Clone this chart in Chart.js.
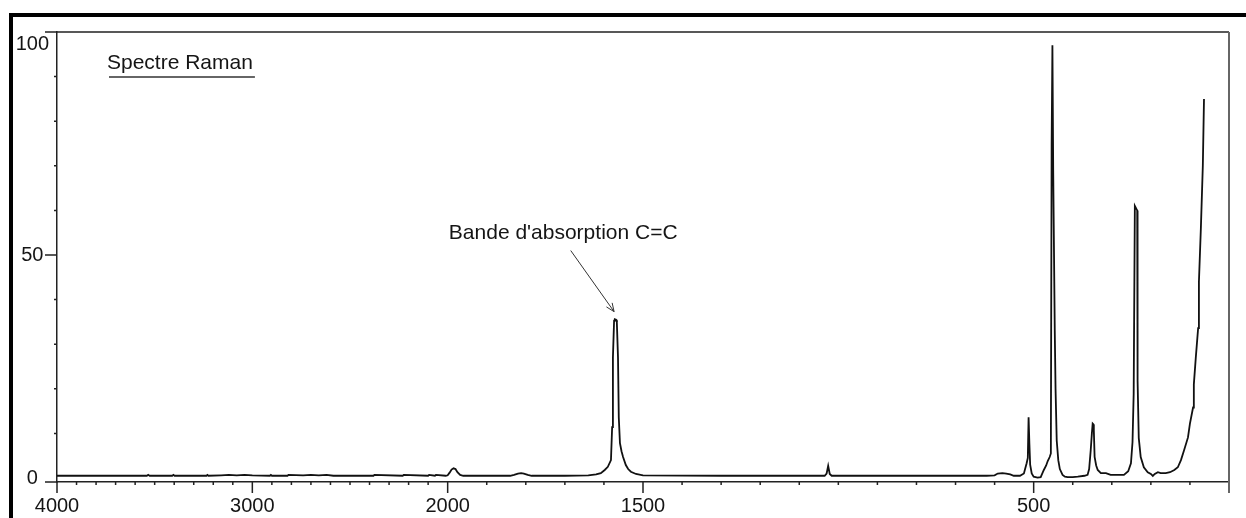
<!DOCTYPE html>
<html>
<head>
<meta charset="utf-8">
<title>Spectre Raman</title>
<script src="https://cdn.jsdelivr.net/npm/chart.js@4/dist/chart.umd.min.js"></script>
<style>
    body { margin: 0; background: #fff; }
    canvas { display: block; }
</style>
</head>
<body>
<canvas id="ramanChart" width="1246" height="518"></canvas>
<script>
// Raman spectrum (wavenumber in cm-1, intensity 0-100)
var wavenumber = [4000, 3540, 3533, 3526, 3410, 3404, 3398, 3235, 3230, 3225,
    3160, 3120, 3080, 3040, 3000, 2910, 2905, 2900, 2820, 2815, 2740, 2700, 2660, 2620, 2585,
    2380, 2375, 2230, 2225, 2100, 2095, 2065, 2060, 2010,
    2000, 1995, 1990, 1985, 1980, 1975, 1968, 1960, 1900,
    1840, 1830, 1820, 1812, 1805, 1795, 1785, 1700, 1640, 1620,
    1608, 1598, 1590, 1582, 1579, 1577, 1574, 1572, 1569, 1567, 1564, 1562, 1559,
    1555, 1551, 1544, 1538, 1531, 1518, 1500, 1300, 1100,
    1035, 1030, 1026, 1022, 1017, 900, 700, 620, 600, 592, 580, 570, 560, 551,
    545, 535, 525, 518, 515, 513, 511, 509, 505, 500, 490, 482, 474, 468, 464, 459, 456,
    454, 452, 450, 446, 444, 441, 437, 433, 426, 420, 413, 400, 387, 370,
    362, 358, 354, 351, 349, 347, 346, 344, 340, 336, 328, 315, 303, 285, 269,
    258, 251, 247, 244, 241, 235, 234, 231, 226, 218, 208, 200, 195, 190, 182, 175,
    162, 151, 140, 131, 123, 115, 105, 100, 92, 90, 85, 79, 77, 72, 67, 64];

var intensity = [0.5, 0.5, 0.7, 0.5, 0.5, 0.7, 0.5, 0.5, 0.7, 0.5,
    0.6, 0.7, 0.6, 0.7, 0.6, 0.5, 0.7, 0.5, 0.5, 0.7, 0.6, 0.7, 0.6, 0.7, 0.5,
    0.5, 0.7, 0.5, 0.7, 0.5, 0.7, 0.5, 0.7, 0.5,
    0.6, 1.2, 1.9, 2.2, 2.0, 1.3, 0.7, 0.5, 0.5,
    0.5, 0.7, 1.0, 1.1, 1.0, 0.7, 0.5, 0.5, 0.6, 0.8,
    1.1, 1.8, 2.5, 4.0, 11.4, 27, 35.3, 35.6, 35.5, 35, 27, 13.6, 7.8,
    6.0, 4.7, 2.9, 2.0, 1.4, 0.9, 0.6, 0.5, 0.5,
    0.5, 1.0, 2.7, 0.9, 0.5, 0.5, 0.5, 0.5, 0.6, 1.0, 1.1, 1.0, 0.8, 0.5,
    0.5, 0.5, 1.0, 3.3, 4.5, 13.6, 7.8, 3.0, 1.0, 0.3, 0.1, 0.2, 1.8, 2.8, 3.8, 4.7, 5.5,
    75, 97, 69, 33, 20, 8.4, 4.0, 2.0, 0.7, 0.3, 0.2, 0.2, 0.3, 0.5,
    0.7, 2.0, 6.2, 10, 12.2, 12, 10.7, 4.7, 2.8, 1.8, 1.1, 1.1, 0.7, 0.7, 0.7,
    1.5, 3.3, 8, 18.9, 61, 60, 21.8, 9, 4.7, 2.4, 1.3, 0.9, 0.45, 0.9, 1.3, 1.1,
    1.1, 1.3, 1.8, 2.4, 4.0, 6.2, 9.1, 12.2, 15.8, 21, 27, 33.6, 44, 56, 70, 85];

// axis ticks
var xLabelled = [4000, 3000, 2000, 1500, 500];
var xMajor = [4000, 3000, 2000, 1500, 500, 0];
var yLabelled = [0, 50, 100];
var yMajor = [50, 100];

var titleText = 'Spectre Raman';
var noteText = "Bande d'absorption C=C";

// the wavenumber axis is squeezed by 2 above 2000 cm-1
function toAxis(w) {
    return w <= 2000 ? w : 2000 + (w - 2000) / 2;
}
function fromAxis(u) {
    return u <= 2000 ? u : 2000 + (u - 2000) * 2;
}

var points = wavenumber.map(function (w, i) {
    return { x: toAxis(w), y: intensity[i] };
});

var xTicks = [];
for (var w = 0; w <= 4000; w += 100) xTicks.push({ value: toAxis(w) });
var yTicks = [];
for (var v = 0; v <= 100; v += 10) yTicks.push({ value: v });

var FONT = "'Liberation Sans', Arial, sans-serif";
var INK = '#151515';

var framePlugin = {
    id: 'frame',
    afterDraw: function (chart) {
        var ctx = chart.ctx;
        var a = chart.chartArea;
        var xs = chart.scales.x;
        var ys = chart.scales.y;
        ctx.save();

        // outer thick border (top and left)
        ctx.fillStyle = '#000';
        ctx.fillRect(9, 13, chart.width - 9, 4);
        ctx.fillRect(9, 13, 4, chart.height - 13);

        ctx.strokeStyle = '#222';
        ctx.lineWidth = 1.5;
        ctx.beginPath();
        // top line and extension of the bottom axis
        ctx.moveTo(a.left - 12, a.top); ctx.lineTo(a.right, a.top);
        ctx.moveTo(a.left - 12, a.bottom); ctx.lineTo(a.left, a.bottom);
        // x tick marks
        xs.ticks.forEach(function (t) {
            var px = xs.getPixelForValue(t.value);
            var w = Math.round(fromAxis(t.value));
            var len = xMajor.indexOf(w) >= 0 ? 11 : 3;
            ctx.moveTo(px, a.bottom); ctx.lineTo(px, a.bottom + len);
        });
        // y tick marks
        ys.ticks.forEach(function (t) {
            if (t.value === 0) return;
            var py = ys.getPixelForValue(t.value);
            var len = yMajor.indexOf(t.value) >= 0 ? 12 : 3;
            ctx.moveTo(a.left - len, py); ctx.lineTo(a.left, py);
        });
        ctx.stroke();

        // right border
        ctx.strokeStyle = '#666';
        ctx.lineWidth = 2;
        ctx.beginPath();
        ctx.moveTo(a.right, a.top); ctx.lineTo(a.right, a.bottom + 11);
        ctx.stroke();

        // title, underlined
        ctx.fillStyle = INK;
        ctx.font = '21px ' + FONT;
        ctx.textBaseline = 'alphabetic';
        ctx.textAlign = 'left';
        ctx.fillText(titleText, a.left + 50, a.top + 37);
        var tw = ctx.measureText(titleText).width;
        ctx.strokeStyle = '#333';
        ctx.lineWidth = 1.5;
        ctx.beginPath();
        ctx.moveTo(a.left + 52, a.top + 45); ctx.lineTo(a.left + 52 + tw, a.top + 45);
        ctx.stroke();

        // annotation with arrow on the C=C band
        var tx = xs.getPixelForValue(toAxis(1997));
        var ty = ys.getPixelForValue(53.6);
        ctx.fillText(noteText, tx, ty);
        var x0 = xs.getPixelForValue(toAxis(1685)), y0 = ys.getPixelForValue(51);
        var x1 = xs.getPixelForValue(toAxis(1574)), y1 = ys.getPixelForValue(37.3);
        ctx.strokeStyle = '#333';
        ctx.lineWidth = 1;
        ctx.beginPath();
        ctx.moveTo(x0, y0); ctx.lineTo(x1, y1);
        var ang = Math.atan2(y1 - y0, x1 - x0);
        ctx.moveTo(x1, y1); ctx.lineTo(x1 - 9 * Math.cos(ang - 0.4), y1 - 9 * Math.sin(ang - 0.4));
        ctx.moveTo(x1, y1); ctx.lineTo(x1 - 9 * Math.cos(ang + 0.4), y1 - 9 * Math.sin(ang + 0.4));
        ctx.stroke();
        ctx.restore();
    }
};

var ctx = document.getElementById('ramanChart').getContext('2d');
var chart = new Chart(ctx, {
    type: 'line',
    data: {
        datasets: [{
            label: 'Raman',
            data: points,
            borderColor: '#111',
            borderWidth: 1.8,
            pointRadius: 0,
            tension: 0,
            fill: false
        }]
    },
    options: {
        responsive: false,
        animation: false,
        devicePixelRatio: 1,
        layout: { padding: { top: 28, right: 17, bottom: 0, left: 0 } },
        plugins: {
            legend: { display: false },
            tooltip: { enabled: false }
        },
        scales: {
            x: {
                type: 'linear',
                reverse: true,
                min: 0,
                max: 3000,
                afterBuildTicks: function (scale) { scale.ticks = xTicks.slice(); },
                afterFit: function (scale) { scale.height = 36; },
                grid: { display: false, drawTicks: false },
                border: { display: true, color: '#222', width: 1.5 },
                ticks: {
                    autoSkip: false,
                    maxRotation: 0,
                    minRotation: 0,
                    padding: 12,
                    color: INK,
                    font: { family: FONT, size: 20 },
                    callback: function (value) {
                        var w = Math.round(fromAxis(value));
                        return xLabelled.indexOf(w) >= 0 ? String(w) : '';
                    }
                }
            },
            y: {
                min: -0.9,
                max: 100,
                afterBuildTicks: function (scale) { scale.ticks = yTicks.slice(); },
                afterFit: function (scale) { scale.width = 57; },
                grid: { display: false, drawTicks: false },
                border: { display: true, color: '#222', width: 1.5 },
                ticks: {
                    autoSkip: false,
                    padding: 8,
                    crossAlign: 'center',
                    color: INK,
                    font: { family: FONT, size: 20 },
                    callback: function (value) {
                        if (value === 100) return ['', '100'];
                        return yLabelled.indexOf(value) >= 0 ? String(value) : '';
                    }
                }
            }
        }
    },
    plugins: [framePlugin]
});
</script>
</body>
</html>
